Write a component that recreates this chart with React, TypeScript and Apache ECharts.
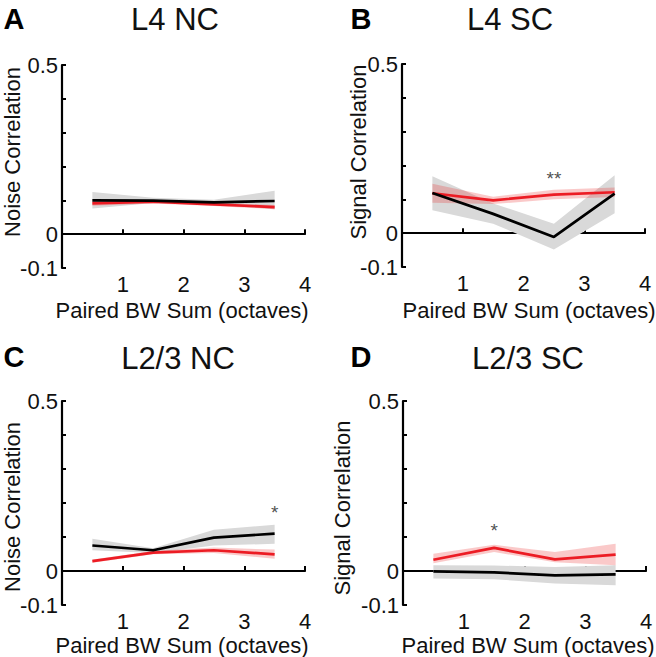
import React, { useEffect, useRef } from 'react';
import * as echarts from 'echarts';

// ---------- data ----------
const xBins = [0.5, 1.5, 2.5, 3.5];
const titles = ['L4 NC', 'L4 SC', 'L2/3 NC', 'L2/3 SC'];
const letters = ['A', 'B', 'C', 'D'];
const yNames = ['Noise Correlation', 'Signal Correlation', 'Noise Correlation', 'Signal Correlation'];
const xName = 'Paired BW Sum (octaves)';
const yTickLabels = ['-0.1', '0', '0.5'];

// Panel A: L4 NC
const aBlack = [0.100, 0.099, 0.094, 0.098];
const aBlackLo = [0.076, 0.092, 0.088, 0.074];
const aBlackHi = [0.125, 0.108, 0.102, 0.128];
const aRed = [0.091, 0.096, 0.088, 0.080];
const aRedLo = [0.084, 0.091, 0.083, 0.074];
const aRedHi = [0.098, 0.101, 0.093, 0.086];

// Panel B: L4 SC
const bBlack = [0.119, 0.057, -0.011, 0.117];
const bBlackLo = [0.068, 0.028, -0.048, 0.059];
const bBlackHi = [0.168, 0.088, 0.028, 0.171];
const bRed = [0.118, 0.097, 0.114, 0.121];
const bRedLo = [0.090, 0.086, 0.100, 0.107];
const bRedHi = [0.146, 0.108, 0.128, 0.135];

// Panel C: L2/3 NC
const cBlack = [0.075, 0.061, 0.098, 0.110];
const cBlackLo = [0.061, 0.053, 0.075, 0.080];
const cBlackHi = [0.095, 0.067, 0.121, 0.136];
const cRed = [0.029, 0.054, 0.061, 0.049];
const cRedLo = [0.024, 0.049, 0.053, 0.036];
const cRedHi = [0.034, 0.059, 0.069, 0.063];

// Panel D: L2/3 SC
const dBlack = [-0.001, -0.004, -0.013, -0.010];
const dBlackLo = [-0.022, -0.024, -0.037, -0.042];
const dBlackHi = [0.017, 0.016, 0.012, 0.017];
const dRed = [0.033, 0.068, 0.034, 0.048];
const dRedLo = [0.023, 0.056, 0.026, 0.017];
const dRedHi = [0.051, 0.077, 0.056, 0.080];

// significance marks: [panel, x, y, text]
const sigMarks: [number, number, number, string][] = [
  [1, 2.5, 0.163, '**'],
  [2, 3.5, 0.172, '*'],
  [3, 1.5, 0.118, '*'],
];

const FONT = 'Liberation Sans, Arial, Helvetica, sans-serif';
const RED = '#ec1c24';
const BLACK = '#000000';
const GRAY_BAND = '#d9d9d9';
const RED_BAND = 'rgba(236,40,40,0.25)';

const grids = [
  { left: 62, top: 65, width: 243, height: 203 },
  { left: 402, top: 64, width: 243, height: 203 },
  { left: 62, top: 401, width: 243, height: 204 },
  { left: 403, top: 401, width: 243, height: 204 },
];
const titlePos = [[175, 19], [510, 19], [178, 358], [528, 358]];
const letterPos = [[14, 19], [361, 19], [14, 357], [361, 357]];
const yNamePos = [[12, 152], [358, 152], [12, 507], [342, 508]];
const xNamePos = [[182, 310], [529, 310], [182, 645], [528, 645]];

const panels = [
  { black: aBlack, blo: aBlackLo, bhi: aBlackHi, red: aRed, rlo: aRedLo, rhi: aRedHi },
  { black: bBlack, blo: bBlackLo, bhi: bBlackHi, red: bRed, rlo: bRedLo, rhi: bRedHi },
  { black: cBlack, blo: cBlackLo, bhi: cBlackHi, red: cRed, rlo: cRedLo, rhi: cRedHi },
  { black: dBlack, blo: dBlackLo, bhi: dBlackHi, red: dRed, rlo: dRedLo, rhi: dRedHi },
];

function bandSeries(idx: number, lo: number[], hi: number[], color: string, z: number) {
  return {
    type: 'custom',
    xAxisIndex: idx,
    yAxisIndex: idx,
    silent: true,
    z,
    data: xBins.map((x, i) => [x, lo[i], hi[i]]),
    encode: { x: 0, y: [1, 2] },
    renderItem: (params: any, api: any) => {
      if (params.dataIndex !== 0) return null;
      const pts: number[][] = [];
      for (let i = 0; i < xBins.length; i++) pts.push(api.coord([xBins[i], lo[i]]));
      for (let i = xBins.length - 1; i >= 0; i--) pts.push(api.coord([xBins[i], hi[i]]));
      return { type: 'polygon', shape: { points: pts }, style: { fill: color } };
    },
  };
}

function lineSeries(idx: number, vals: number[], color: string, z: number) {
  return {
    type: 'line',
    xAxisIndex: idx,
    yAxisIndex: idx,
    silent: true,
    z,
    symbol: 'none',
    data: xBins.map((x, i) => [x, vals[i]]),
    lineStyle: { color, width: 2.7 },
  };
}

export default function App() {
  const ref = useRef<HTMLDivElement>(null);
  useEffect(() => {
    if (!ref.current) return;
    const chart = echarts.init(ref.current, undefined, { renderer: 'svg' });

    const xAxes = grids.map((_, i) => ({
      type: 'value',
      gridIndex: i,
      min: 0,
      max: 4,
      interval: 1,
      axisLine: { show: true, lineStyle: { color: '#000', width: 2.2 } },
      axisTick: { show: true, inside: true, length: 5, lineStyle: { color: '#000', width: 2 } },
      axisLabel: {
        fontSize: 22,
        lineHeight: 14,
        fontFamily: FONT,
        color: '#111',
        margin: 9,
        formatter: (v: number) => (v === 0 ? '' : String(v)),
      },
      splitLine: { show: false },
    }));

    const yAxes = grids.map((_, i) => ({
      type: 'value',
      gridIndex: i,
      min: -0.1,
      max: 0.5,
      interval: 0.1,
      axisLine: { show: true, lineStyle: { color: '#000', width: 2.2 } },
      axisTick: { show: true, inside: true, length: 4, lineStyle: { color: '#000', width: 2 } },
      axisLabel: {
        fontSize: 22,
        lineHeight: 16,
        fontFamily: FONT,
        color: '#111',
        margin: 4,
        formatter: (v: number) => {
          if (Math.abs(v - 0.5) < 1e-6) return yTickLabels[2];
          if (Math.abs(v) < 1e-6) return yTickLabels[1];
          if (Math.abs(v + 0.1) < 1e-6) return yTickLabels[0];
          return '';
        },
      },
      splitLine: { show: false },
    }));

    const series: any[] = [];
    panels.forEach((p, i) => {
      series.push(bandSeries(i, p.blo, p.bhi, GRAY_BAND, 1));
      series.push(bandSeries(i, p.rlo, p.rhi, RED_BAND, 2));
      series.push(lineSeries(i, p.red, RED, 3));
      series.push(lineSeries(i, p.black, BLACK, 4));
    });
    sigMarks.forEach(([pi, x, y, t]) => {
      series.push({
        type: 'scatter',
        xAxisIndex: pi,
        yAxisIndex: pi,
        silent: true,
        symbolSize: 0,
        data: [[x, y]],
        label: {
          show: true,
          position: 'inside',
          formatter: t,
          fontSize: 19,
          fontFamily: FONT,
          color: '#222',
        },
        z: 5,
      });
    });

    const graphics: any[] = [];
    titles.forEach((t, i) => {
      graphics.push({
        type: 'text',
        x: titlePos[i][0],
        y: titlePos[i][1],
        style: { text: t, fontSize: 31, fontFamily: FONT, fill: '#111', align: 'center', verticalAlign: 'middle' },
      });
      graphics.push({
        type: 'text',
        x: letterPos[i][0],
        y: letterPos[i][1],
        style: { text: letters[i], fontSize: 29, fontWeight: 'bold', fontFamily: FONT, fill: '#000', align: 'center', verticalAlign: 'middle' },
      });
      graphics.push({
        type: 'text',
        x: yNamePos[i][0],
        y: yNamePos[i][1],
        rotation: Math.PI / 2,
        style: { text: yNames[i], fontSize: 22, fontFamily: FONT, fill: '#111', align: 'center', verticalAlign: 'middle' },
      });
      graphics.push({
        type: 'text',
        x: xNamePos[i][0],
        y: xNamePos[i][1],
        style: { text: xName, fontSize: 22, lineHeight: 16, fontFamily: FONT, fill: '#111', align: 'center', verticalAlign: 'middle' },
      });
    });

    chart.setOption({
      animation: false,
      backgroundColor: '#fff',
      grid: grids.map((g) => ({ ...g, containLabel: false })),
      xAxis: xAxes,
      yAxis: yAxes,
      series,
      graphic: graphics,
    });
    return () => chart.dispose();
  }, []);

  return (
    <div
      ref={ref}
      style={{ position: 'absolute', left: 0, top: 0, width: 656, height: 657, background: '#fff' }}
    />
  );
}
